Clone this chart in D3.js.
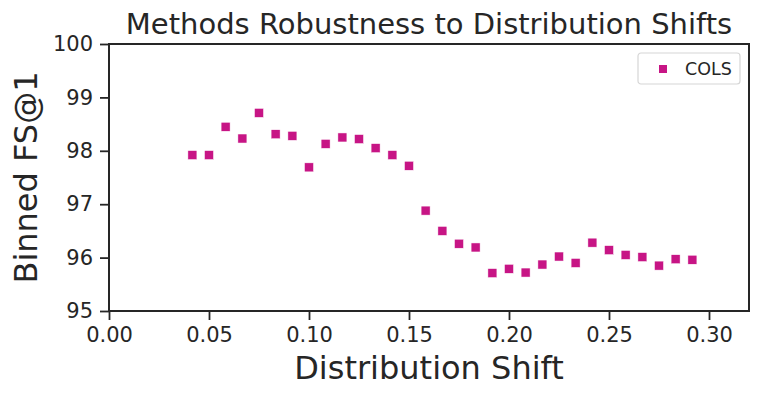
<!DOCTYPE html>
<html>
<head>
<meta charset="utf-8">
<script src="https://cdn.jsdelivr.net/npm/d3@7"></script>
<style>
  body { margin: 0; background: #fff; }
  text { font-family: "DejaVu Sans", sans-serif; fill: #262626; }
</style>
</head>
<body>
<div id="chart"></div>
<script>
// binned FS@1 for COLS vs distribution shift
const shiftValues = [0.0417, 0.05, 0.0583, 0.0667, 0.075, 0.0833, 0.0917, 0.1, 0.1083, 0.1167,
    0.125, 0.1333, 0.1417, 0.15, 0.1583, 0.1667, 0.175, 0.1833, 0.1917, 0.2,
    0.2083, 0.2167, 0.225, 0.2333, 0.2417, 0.25, 0.2583, 0.2667, 0.275, 0.2833, 0.2917];
const colsValues = [97.92, 97.92, 98.45, 98.23, 98.71, 98.31, 98.28, 97.69, 98.13, 98.25,
    98.22, 98.05, 97.92, 97.72, 96.88, 96.50, 96.26, 96.19, 95.71, 95.79,
    95.72, 95.87, 96.02, 95.90, 96.28, 96.14, 96.05, 96.01, 95.85, 95.97, 95.96];
const xTicks = [0, 0.05, 0.10, 0.15, 0.20, 0.25, 0.30];
const yTicks = [95, 96, 97, 98, 99, 100];
const seriesName = "COLS";

const data = shiftValues.map((x, i) => ({ x: x, y: colsValues[i] }));

const margin = { top: 44, right: 12, bottom: 88, left: 109 };
const width = 761 - margin.left - margin.right;
const height = 399 - margin.top - margin.bottom;
const color = "#c71585";
const ink = "#262626";

const svg = d3.select("#chart")
    .append("svg")
    .attr("width", 761)
    .attr("height", 399);

const g = svg.append("g")
    .attr("transform", `translate(${margin.left},${margin.top})`);

const xScale = d3.scaleLinear().domain([0, 0.32]).range([0, width]);
const yScale = d3.scaleLinear().domain([95, 100]).range([height, 0]);

// axes
const xAxis = g.append("g")
    .attr("transform", `translate(0,${height})`)
    .call(d3.axisBottom(xScale).tickValues(xTicks).tickFormat(d3.format(".2f")).tickSize(9).tickPadding(5));
const yAxis = g.append("g")
    .call(d3.axisLeft(yScale).tickValues(yTicks).tickFormat(d3.format("d")).tickSize(9).tickPadding(7));

[xAxis, yAxis].forEach(a => {
    a.select(".domain").remove();
    a.selectAll(".tick line").attr("stroke", ink).attr("stroke-width", 1.8);
    a.selectAll(".tick text").style("font-size", "21px").attr("fill", ink);
});
xAxis.selectAll(".tick text").attr("dy", "0.8em");

// frame
g.append("rect")
    .attr("width", width)
    .attr("height", height)
    .attr("fill", "none")
    .attr("stroke", ink)
    .attr("stroke-width", 2);

// points
const size = 9;
g.selectAll(".dot")
    .data(data)
    .enter()
    .append("rect")
    .attr("class", "dot")
    .attr("x", d => xScale(d.x) - size / 2)
    .attr("y", d => yScale(d.y) - size / 2)
    .attr("width", size)
    .attr("height", size)
    .attr("fill", color)
    .attr("stroke", "#fff")
    .attr("stroke-width", 0.5);

// title and labels
svg.append("text")
    .attr("x", margin.left + width / 2)
    .attr("y", 34)
    .attr("text-anchor", "middle")
    .style("font-size", "29px")
    .text("Methods Robustness to Distribution Shifts");

svg.append("text")
    .attr("x", margin.left + width / 2)
    .attr("y", 379)
    .attr("text-anchor", "middle")
    .style("font-size", "32px")
    .text("Distribution Shift");

svg.append("text")
    .attr("transform", `translate(37,${margin.top + height / 2}) rotate(-90)`)
    .attr("text-anchor", "middle")
    .style("font-size", "32px")
    .text("Binned FS@1");

// legend
const legend = svg.append("g")
    .attr("transform", "translate(638,53)");
legend.append("rect")
    .attr("width", 102)
    .attr("height", 31)
    .attr("rx", 3)
    .attr("fill", "#fff")
    .attr("stroke", "#d6d6d6")
    .attr("stroke-width", 1.2);
legend.append("rect")
    .attr("x", 25 - 4)
    .attr("y", 16 - 4)
    .attr("width", 8)
    .attr("height", 8)
    .attr("fill", color);
legend.append("text")
    .attr("x", 47)
    .attr("y", 22)
    .style("font-size", "17.5px")
    .text(seriesName);
</script>
</body>
</html>
